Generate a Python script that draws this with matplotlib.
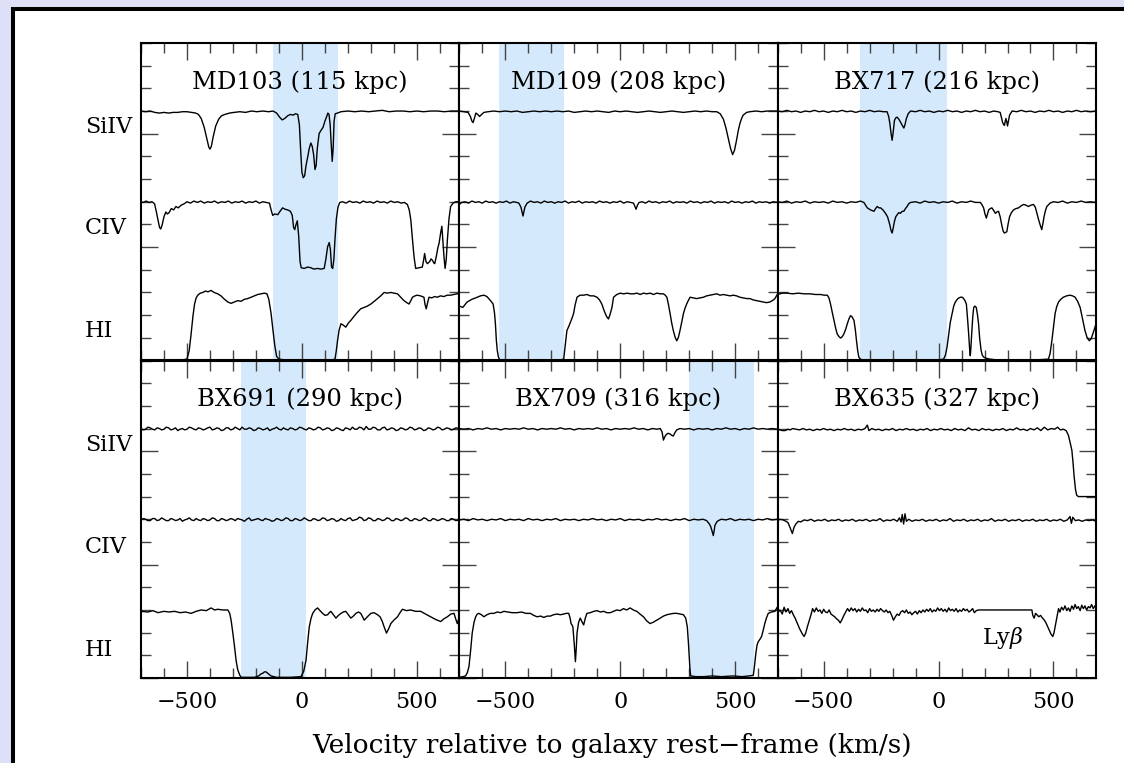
import matplotlib.pyplot as plt
import numpy as np
from matplotlib.patches import Rectangle
from matplotlib.ticker import MultipleLocator

plt.rcParams['font.family'] = ['DejaVu Serif']
plt.rcParams['mathtext.fontset'] = 'dejavuserif'

# spectra: (velocity km/s, normalised flux)
md103_siiv = [(-700, 1.0), (-680, 0.99), (-660, 1.0), (-640, 0.98), (-620, 0.97), (-600, 0.98), (-580, 0.97), (-560, 0.98), (-540, 0.98), (-520, 0.99), (-500, 0.99), (-480, 0.98), (-462, 0.97), (-450, 0.95), (-438, 0.89), (-425, 0.76), (-414, 0.60), (-405, 0.47), (-400, 0.44), (-394, 0.48), (-386, 0.62), (-375, 0.78), (-362, 0.88), (-350, 0.93), (-335, 0.95), (-315, 0.97), (-295, 0.98), (-270, 0.99), (-245, 0.98), (-220, 1.0), (-195, 0.99), (-170, 1.0), (-145, 0.99), (-125, 1.0), (-110, 0.97), (-97, 0.91), (-86, 0.87), (-75, 0.89), (-62, 0.93), (-50, 0.95), (-38, 0.94), (-28, 0.96), (-18, 0.95), (-11, 0.80), (-5, 0.40), (0, 0.10), (6, 0.02), (12, 0.05), (18, 0.20), (25, 0.32), (32, 0.45), (39, 0.53), (45, 0.48), (51, 0.36), (57, 0.14), (62, 0.20), (67, 0.45), (75, 0.67), (84, 0.72), (92, 0.76), (100, 0.85), (108, 0.92), (113, 0.97), (118, 0.95), (123, 0.80), (127, 0.55), (132, 0.26), (136, 0.45), (140, 0.85), (145, 0.96), (155, 0.97), (170, 0.99), (200, 1.0), (230, 0.99), (260, 1.0), (290, 0.99), (320, 1.0), (350, 1.01), (380, 0.99), (410, 1.0), (440, 1.0), (470, 0.99), (500, 1.0), (530, 0.99), (560, 1.0), (590, 1.0), (620, 0.99), (650, 1.0), (685, 1.0)]
md103_civ = [(-700, 1.0), (-690, 0.99), (-678, 1.01), (-665, 0.99), (-652, 1.0), (-641, 0.97), (-633, 0.85), (-626, 0.73), (-619, 0.62), (-614, 0.60), (-608, 0.66), (-600, 0.78), (-592, 0.85), (-585, 0.82), (-578, 0.84), (-568, 0.90), (-558, 0.88), (-548, 0.93), (-538, 0.91), (-525, 0.95), (-512, 0.97), (-500, 1.0), (-485, 0.98), (-470, 1.01), (-455, 0.99), (-440, 1.01), (-425, 0.98), (-410, 1.0), (-395, 0.99), (-380, 1.01), (-365, 0.98), (-350, 1.0), (-335, 0.99), (-320, 1.01), (-305, 0.98), (-290, 1.0), (-275, 0.99), (-260, 1.01), (-245, 0.98), (-230, 1.0), (-215, 0.99), (-200, 1.01), (-185, 0.98), (-170, 1.0), (-155, 0.99), (-141, 0.98), (-134, 0.88), (-127, 0.80), (-118, 0.82), (-105, 0.81), (-95, 0.86), (-84, 0.91), (-73, 0.89), (-62, 0.88), (-50, 0.86), (-42, 0.80), (-36, 0.62), (-31, 0.59), (-26, 0.66), (-20, 0.72), (-14, 0.50), (-8, 0.12), (-3, 0.03), (10, 0.02), (25, 0.04), (39, 0.03), (52, 0.01), (68, 0.02), (82, 0.01), (97, 0.02), (104, 0.15), (112, 0.34), (119, 0.40), (124, 0.30), (129, 0.04), (134, 0.02), (139, 0.15), (144, 0.45), (150, 0.75), (157, 0.92), (165, 0.99), (177, 1.0), (192, 0.98), (207, 1.01), (222, 0.99), (237, 1.0), (252, 0.98), (267, 1.01), (282, 0.99), (297, 1.0), (312, 0.98), (327, 1.01), (342, 0.99), (357, 1.0), (372, 0.98), (387, 1.01), (402, 0.99), (417, 1.0), (432, 0.98), (446, 0.99), (459, 0.96), (467, 0.88), (474, 0.73), (481, 0.45), (488, 0.19), (495, 0.02), (510, 0.03), (524, 0.04), (530, 0.15), (534, 0.24), (540, 0.12), (546, 0.09), (556, 0.12), (562, 0.16), (568, 0.14), (574, 0.10), (578, 0.09), (585, 0.20), (592, 0.33), (597, 0.39), (604, 0.55), (609, 0.64), (613, 0.45), (618, 0.20), (623, 0.02), (628, 0.15), (633, 0.44), (640, 0.75), (647, 0.93), (658, 0.98), (669, 1.0), (685, 1.0)]
md103_hi = [(-700, 0.01), (-670, 0.0), (-640, 0.01), (-610, 0.0), (-580, 0.01), (-550, 0.0), (-520, 0.01), (-500, 0.02), (-490, 0.15), (-482, 0.39), (-474, 0.65), (-467, 0.83), (-460, 0.92), (-453, 0.96), (-442, 0.99), (-431, 1.0), (-420, 1.02), (-408, 1.01), (-395, 1.03), (-382, 1.0), (-366, 0.98), (-352, 0.95), (-337, 0.90), (-322, 0.86), (-308, 0.84), (-294, 0.86), (-279, 0.88), (-265, 0.87), (-250, 0.90), (-236, 0.91), (-221, 0.93), (-207, 0.95), (-192, 0.97), (-178, 0.98), (-163, 0.99), (-152, 0.98), (-144, 0.90), (-134, 0.69), (-126, 0.45), (-118, 0.22), (-110, 0.06), (-100, 0.02), (-76, 0.01), (-40, 0.0), (0, 0.01), (39, 0.0), (80, 0.01), (120, 0.0), (144, 0.02), (150, 0.15), (155, 0.29), (162, 0.45), (170, 0.54), (180, 0.52), (191, 0.49), (202, 0.55), (213, 0.59), (227, 0.65), (242, 0.71), (256, 0.76), (271, 0.78), (285, 0.80), (300, 0.83), (315, 0.87), (329, 0.91), (343, 0.95), (358, 1.0), (372, 0.99), (387, 1.0), (401, 0.99), (416, 0.98), (430, 0.93), (441, 0.89), (452, 0.86), (466, 0.83), (474, 0.88), (481, 0.93), (492, 0.95), (502, 0.96), (516, 0.95), (531, 0.93), (536, 0.82), (541, 0.76), (547, 0.85), (553, 0.93), (565, 0.92), (577, 0.94), (589, 0.93), (603, 0.95), (618, 0.94), (632, 0.96), (647, 0.96), (661, 0.97), (675, 0.98), (685, 0.98)]

md109_siiv = [(-700, 1.0), (-680, 0.99), (-662, 0.98), (-652, 0.92), (-645, 0.85), (-640, 0.83), (-634, 0.90), (-628, 0.97), (-620, 0.95), (-612, 0.92), (-603, 0.95), (-593, 0.98), (-575, 0.99), (-550, 1.0), (-525, 0.99), (-500, 1.0), (-475, 0.99), (-450, 1.0), (-425, 0.98), (-400, 0.99), (-375, 1.0), (-350, 0.99), (-325, 1.0), (-300, 0.99), (-275, 1.0), (-250, 0.99), (-225, 1.0), (-200, 0.98), (-175, 0.99), (-150, 1.0), (-125, 0.99), (-100, 1.0), (-75, 0.99), (-50, 0.98), (-25, 1.0), (0, 0.99), (25, 1.0), (50, 0.99), (75, 0.98), (100, 0.99), (125, 1.0), (150, 0.99), (175, 0.98), (200, 0.99), (225, 1.0), (250, 0.99), (275, 0.98), (300, 0.99), (325, 1.0), (350, 0.99), (375, 1.0), (400, 0.99), (420, 0.99), (435, 0.96), (449, 0.88), (460, 0.75), (470, 0.60), (480, 0.45), (489, 0.36), (497, 0.42), (506, 0.57), (514, 0.72), (521, 0.82), (528, 0.89), (535, 0.94), (550, 0.98), (564, 0.99), (590, 1.0), (615, 0.99), (640, 1.0), (665, 1.0), (685, 1.0)]
md109_civ = [(-700, 0.96), (-690, 0.99), (-675, 1.0), (-660, 0.98), (-645, 1.01), (-630, 0.99), (-615, 1.0), (-600, 0.98), (-585, 1.01), (-570, 0.99), (-555, 1.0), (-540, 0.98), (-525, 1.0), (-510, 0.99), (-495, 1.01), (-480, 0.98), (-465, 1.0), (-450, 0.99), (-441, 0.98), (-432, 0.92), (-423, 0.79), (-415, 0.92), (-405, 0.98), (-390, 1.01), (-375, 0.99), (-360, 1.0), (-345, 0.98), (-330, 1.01), (-315, 0.99), (-300, 1.0), (-285, 0.98), (-270, 1.0), (-255, 0.99), (-240, 1.01), (-225, 0.98), (-210, 1.0), (-195, 0.99), (-180, 1.01), (-165, 0.98), (-150, 1.0), (-135, 0.99), (-120, 1.0), (-105, 0.98), (-90, 1.01), (-75, 0.99), (-60, 1.0), (-45, 0.98), (-30, 1.0), (-15, 0.99), (0, 1.01), (15, 0.98), (30, 1.0), (45, 0.99), (58, 0.98), (64, 0.93), (69, 0.89), (75, 0.95), (82, 0.99), (95, 1.0), (110, 0.98), (125, 1.01), (140, 0.99), (155, 1.0), (170, 0.98), (185, 1.0), (200, 0.99), (215, 1.01), (230, 0.98), (245, 1.0), (260, 0.99), (275, 1.0), (290, 0.98), (305, 1.01), (320, 0.99), (335, 1.0), (350, 0.98), (365, 1.0), (380, 0.99), (395, 1.01), (410, 0.98), (425, 1.0), (440, 0.99), (455, 1.0), (470, 0.98), (485, 1.01), (500, 0.99), (515, 1.0), (530, 0.98), (545, 1.0), (560, 0.99), (575, 1.01), (590, 0.98), (605, 1.0), (620, 0.99), (635, 1.0), (650, 0.98), (665, 1.0), (685, 0.99)]
md109_hi = [(-700, 0.80), (-685, 0.78), (-666, 0.86), (-645, 0.90), (-622, 0.93), (-608, 0.95), (-593, 0.96), (-580, 0.94), (-572, 0.91), (-562, 0.87), (-553, 0.83), (-547, 0.70), (-543, 0.54), (-539, 0.30), (-535, 0.15), (-530, 0.05), (-524, 0.01), (-490, 0.0), (-449, 0.01), (-400, 0.0), (-350, 0.01), (-304, 0.0), (-260, 0.01), (-246, 0.02), (-240, 0.20), (-232, 0.44), (-224, 0.50), (-217, 0.56), (-210, 0.62), (-203, 0.69), (-196, 0.82), (-188, 0.93), (-175, 0.96), (-159, 0.96), (-145, 0.97), (-130, 0.95), (-115, 0.95), (-101, 0.93), (-90, 0.89), (-80, 0.83), (-72, 0.75), (-65, 0.69), (-58, 0.64), (-51, 0.61), (-44, 0.68), (-36, 0.78), (-29, 0.93), (-15, 0.97), (0, 0.99), (15, 0.98), (30, 0.99), (44, 0.98), (58, 0.98), (73, 0.99), (87, 0.97), (101, 0.99), (116, 0.98), (130, 0.99), (145, 0.97), (159, 0.99), (174, 0.98), (188, 0.98), (196, 0.96), (203, 0.93), (210, 0.82), (217, 0.69), (224, 0.55), (231, 0.44), (239, 0.34), (246, 0.29), (253, 0.34), (260, 0.44), (268, 0.57), (275, 0.69), (282, 0.77), (289, 0.83), (296, 0.88), (304, 0.93), (318, 0.92), (333, 0.91), (347, 0.92), (362, 0.93), (376, 0.95), (391, 0.96), (405, 0.97), (420, 0.98), (434, 0.96), (449, 0.97), (463, 0.96), (478, 0.95), (492, 0.96), (506, 0.95), (521, 0.93), (535, 0.92), (550, 0.91), (564, 0.91), (579, 0.89), (593, 0.88), (608, 0.87), (622, 0.86), (637, 0.85), (651, 0.86), (662, 0.88), (673, 0.91), (685, 0.98)]

bx717_siiv = [(-700, 1.0), (-680, 0.99), (-660, 1.01), (-640, 0.99), (-620, 1.0), (-600, 0.98), (-580, 1.0), (-560, 0.99), (-540, 1.01), (-520, 0.99), (-500, 1.0), (-480, 0.98), (-460, 1.0), (-440, 0.99), (-420, 1.01), (-400, 0.99), (-380, 1.0), (-360, 0.98), (-340, 1.0), (-320, 0.99), (-300, 1.01), (-280, 0.99), (-260, 1.0), (-240, 0.99), (-224, 0.99), (-217, 0.92), (-212, 0.82), (-207, 0.68), (-202, 0.57), (-197, 0.70), (-192, 0.86), (-186, 0.90), (-180, 0.91), (-173, 0.88), (-166, 0.84), (-158, 0.79), (-151, 0.75), (-146, 0.80), (-140, 0.89), (-132, 0.96), (-122, 1.0), (-100, 0.99), (-80, 1.01), (-60, 0.99), (-40, 1.0), (-20, 0.98), (0, 1.0), (20, 0.99), (40, 1.01), (60, 0.99), (80, 1.0), (100, 0.98), (120, 1.0), (140, 0.99), (160, 1.01), (180, 0.99), (200, 1.0), (220, 0.98), (240, 1.0), (258, 0.99), (268, 0.98), (274, 0.90), (278, 0.84), (283, 0.80), (287, 0.79), (290, 0.85), (293, 0.89), (297, 0.84), (300, 0.78), (304, 0.85), (309, 0.94), (320, 1.0), (340, 0.99), (360, 1.01), (380, 0.99), (400, 1.0), (420, 0.98), (440, 1.0), (460, 0.99), (480, 1.01), (500, 0.99), (520, 1.0), (540, 0.98), (560, 1.0), (580, 0.99), (600, 1.01), (620, 0.99), (640, 1.0), (660, 0.99), (685, 1.0)]
bx717_civ = [(-700, 1.0), (-680, 0.99), (-660, 1.01), (-640, 0.98), (-620, 1.0), (-600, 0.99), (-580, 1.01), (-560, 0.98), (-540, 1.0), (-520, 0.99), (-500, 1.0), (-480, 0.98), (-460, 1.01), (-440, 0.99), (-420, 1.0), (-400, 0.98), (-380, 1.0), (-360, 0.99), (-340, 1.01), (-325, 0.99), (-310, 0.91), (-296, 0.88), (-281, 0.86), (-274, 0.90), (-267, 0.93), (-259, 0.91), (-252, 0.91), (-242, 0.88), (-231, 0.83), (-222, 0.78), (-212, 0.66), (-207, 0.58), (-202, 0.54), (-197, 0.62), (-192, 0.71), (-186, 0.78), (-180, 0.81), (-173, 0.84), (-166, 0.83), (-158, 0.86), (-151, 0.86), (-144, 0.90), (-137, 0.93), (-130, 0.97), (-122, 0.99), (-100, 1.0), (-80, 0.98), (-60, 1.01), (-40, 0.99), (-20, 1.0), (0, 0.98), (20, 1.0), (40, 0.99), (60, 1.01), (80, 0.98), (100, 1.0), (120, 0.99), (140, 1.01), (160, 0.99), (182, 0.99), (190, 0.95), (196, 0.91), (202, 0.82), (208, 0.76), (213, 0.82), (218, 0.88), (225, 0.90), (232, 0.91), (240, 0.87), (247, 0.83), (254, 0.85), (261, 0.86), (268, 0.78), (276, 0.64), (281, 0.57), (286, 0.54), (292, 0.55), (297, 0.56), (303, 0.68), (309, 0.78), (317, 0.84), (326, 0.88), (337, 0.90), (348, 0.91), (359, 0.94), (370, 0.96), (380, 0.95), (391, 0.93), (402, 0.95), (413, 0.96), (421, 0.92), (428, 0.83), (435, 0.74), (442, 0.66), (449, 0.59), (454, 0.68), (459, 0.78), (465, 0.87), (471, 0.93), (485, 0.98), (500, 1.0), (520, 0.99), (540, 1.01), (560, 0.98), (580, 1.0), (600, 0.99), (620, 1.01), (640, 0.99), (660, 1.0), (685, 0.99)]
bx717_hi = [(-700, 0.97), (-680, 0.99), (-658, 0.99), (-635, 0.98), (-610, 0.99), (-585, 0.98), (-560, 0.98), (-535, 0.97), (-513, 0.97), (-498, 0.96), (-484, 0.96), (-477, 0.92), (-470, 0.83), (-462, 0.70), (-455, 0.59), (-448, 0.48), (-441, 0.39), (-433, 0.35), (-426, 0.33), (-419, 0.35), (-412, 0.39), (-404, 0.46), (-397, 0.54), (-390, 0.61), (-383, 0.66), (-376, 0.64), (-368, 0.59), (-362, 0.45), (-357, 0.29), (-352, 0.15), (-347, 0.05), (-340, 0.02), (-332, 0.01), (-280, 0.0), (-224, 0.01), (-150, 0.0), (-79, 0.01), (-20, 0.0), (22, 0.02), (30, 0.08), (37, 0.20), (44, 0.38), (51, 0.56), (59, 0.69), (66, 0.80), (73, 0.86), (84, 0.91), (95, 0.93), (103, 0.93), (109, 0.91), (115, 0.88), (121, 0.83), (126, 0.62), (131, 0.39), (135, 0.18), (138, 0.07), (141, 0.20), (145, 0.44), (149, 0.65), (153, 0.78), (158, 0.80), (164, 0.78), (169, 0.68), (174, 0.54), (179, 0.32), (185, 0.15), (190, 0.08), (196, 0.05), (210, 0.03), (225, 0.02), (250, 0.01), (283, 0.01), (350, 0.0), (428, 0.01), (478, 0.02), (485, 0.10), (493, 0.29), (500, 0.49), (507, 0.69), (514, 0.79), (522, 0.86), (532, 0.90), (543, 0.93), (557, 0.95), (572, 0.96), (583, 0.95), (594, 0.93), (605, 0.87), (616, 0.78), (626, 0.62), (637, 0.44), (646, 0.34), (656, 0.29), (664, 0.32), (671, 0.39), (678, 0.46), (685, 0.54)]

bx691_siiv = [(-700, 1.0), (-690, 0.98), (-680, 0.99), (-670, 1.02), (-660, 1.01), (-650, 0.99), (-640, 0.98), (-630, 1.01), (-620, 1.0), (-610, 0.98), (-600, 0.99), (-590, 1.02), (-580, 1.01), (-570, 0.98), (-560, 0.99), (-550, 1.01), (-540, 0.97), (-530, 0.99), (-520, 1.0), (-510, 0.98), (-500, 0.99), (-490, 1.02), (-480, 1.01), (-470, 0.99), (-460, 0.98), (-450, 1.01), (-440, 1.0), (-430, 0.98), (-420, 0.99), (-410, 1.01), (-400, 1.02), (-390, 0.98), (-380, 0.99), (-370, 1.01), (-360, 1.0), (-350, 0.97), (-340, 0.98), (-330, 1.01), (-320, 1.01), (-310, 0.98), (-300, 0.99), (-290, 1.02), (-280, 1.0), (-270, 0.98), (-260, 1.02), (-250, 0.99), (-240, 0.99), (-230, 1.01), (-220, 1.0), (-210, 0.97), (-200, 0.98), (-190, 1.01), (-180, 1.0), (-170, 0.98), (-160, 0.99), (-150, 1.01), (-140, 0.97), (-130, 0.99), (-120, 1.0), (-110, 1.02), (-100, 0.99), (-90, 0.98), (-80, 1.01), (-70, 0.99), (-60, 0.98), (-50, 1.01), (-40, 1.0), (-30, 0.98), (-20, 0.99), (-10, 1.02), (0, 1.01), (10, 0.99), (20, 0.98), (30, 1.01), (40, 1.0), (50, 0.98), (60, 0.99), (70, 1.02), (80, 1.01), (90, 0.98), (100, 0.99), (110, 1.01), (120, 1.0), (130, 0.97), (140, 0.98), (150, 1.01), (160, 1.0), (170, 0.98), (180, 0.97), (190, 1.01), (200, 1.0), (210, 0.98), (220, 1.02), (230, 0.99), (240, 0.99), (250, 1.02), (260, 1.01), (270, 0.98), (280, 1.03), (290, 0.99), (300, 0.99), (310, 1.02), (320, 1.01), (330, 0.98), (340, 0.98), (350, 1.01), (360, 1.02), (370, 0.98), (380, 0.99), (390, 1.01), (400, 1.0), (410, 0.97), (420, 0.98), (430, 1.01), (440, 1.0), (450, 0.98), (460, 0.99), (470, 1.02), (480, 1.01), (490, 0.98), (500, 0.99), (510, 1.01), (520, 1.0), (530, 0.97), (540, 0.98), (550, 1.01), (560, 1.0), (570, 0.98), (580, 0.99), (590, 1.02), (600, 1.01), (610, 0.98), (620, 0.99), (630, 1.01), (640, 1.0), (650, 0.98), (660, 0.99), (670, 1.01), (685, 1.0)]
bx691_civ = [(-700, 0.99), (-690, 1.01), (-680, 1.0), (-670, 0.98), (-660, 0.98), (-650, 1.01), (-640, 1.01), (-630, 0.98), (-620, 0.99), (-610, 1.02), (-600, 1.0), (-590, 0.98), (-580, 0.98), (-570, 1.01), (-560, 1.0), (-550, 0.98), (-540, 0.99), (-530, 1.01), (-520, 0.97), (-510, 0.99), (-500, 1.0), (-490, 1.02), (-480, 0.99), (-470, 0.98), (-460, 1.01), (-450, 0.99), (-440, 0.98), (-430, 1.01), (-420, 1.0), (-410, 0.98), (-400, 0.99), (-390, 1.02), (-380, 1.01), (-370, 0.98), (-360, 0.98), (-350, 1.01), (-340, 1.0), (-330, 0.98), (-320, 0.99), (-310, 1.01), (-300, 1.0), (-290, 0.98), (-280, 1.01), (-270, 1.0), (-260, 0.99), (-250, 0.97), (-240, 1.0), (-230, 1.02), (-220, 0.98), (-210, 0.99), (-200, 1.0), (-190, 1.01), (-180, 0.99), (-170, 0.98), (-160, 1.01), (-150, 1.0), (-140, 0.99), (-130, 0.97), (-120, 0.98), (-110, 1.01), (-100, 1.0), (-90, 0.98), (-80, 0.99), (-70, 1.02), (-60, 1.01), (-50, 0.98), (-40, 0.98), (-30, 1.01), (-20, 1.0), (-10, 0.98), (0, 0.99), (10, 1.02), (20, 1.0), (30, 0.98), (40, 0.98), (50, 1.01), (60, 1.0), (70, 0.98), (80, 0.99), (90, 1.02), (100, 1.01), (110, 0.98), (120, 0.99), (130, 1.01), (140, 1.0), (150, 0.97), (160, 0.98), (170, 1.01), (180, 0.99), (190, 0.98), (200, 1.01), (210, 1.02), (220, 0.98), (230, 0.99), (240, 1.0), (250, 1.03), (260, 1.02), (270, 0.98), (280, 0.99), (290, 1.02), (300, 1.01), (310, 0.98), (320, 0.98), (330, 1.01), (340, 1.0), (350, 0.98), (360, 0.99), (370, 1.02), (380, 1.01), (390, 0.98), (400, 0.98), (410, 1.01), (420, 1.0), (430, 0.98), (440, 0.99), (450, 1.02), (460, 1.01), (470, 0.98), (480, 0.98), (490, 1.01), (500, 1.0), (510, 0.98), (520, 0.99), (530, 1.02), (540, 1.01), (550, 0.98), (560, 0.98), (570, 1.01), (580, 1.0), (590, 0.98), (600, 0.99), (610, 1.01), (620, 1.0), (630, 0.98), (640, 0.98), (650, 1.01), (660, 1.0), (670, 0.98), (685, 0.99)]
bx691_hi = [(-700, 0.98), (-670, 0.97), (-648, 0.99), (-626, 0.96), (-600, 0.98), (-578, 0.97), (-554, 0.98), (-530, 0.96), (-506, 0.97), (-482, 0.95), (-460, 0.98), (-438, 1.0), (-416, 0.99), (-395, 1.03), (-380, 1.0), (-366, 1.01), (-344, 1.0), (-322, 1.0), (-314, 0.95), (-308, 0.85), (-300, 0.65), (-293, 0.46), (-286, 0.25), (-279, 0.12), (-270, 0.04), (-264, 0.01), (-230, 0.01), (-207, 0.01), (-188, 0.03), (-178, 0.06), (-170, 0.07), (-163, 0.09), (-156, 0.09), (-145, 0.06), (-134, 0.03), (-110, 0.01), (-91, 0.01), (-50, 0.01), (-4, 0.02), (8, 0.10), (18, 0.26), (25, 0.52), (32, 0.75), (40, 0.88), (47, 0.95), (57, 1.0), (68, 1.03), (79, 0.99), (90, 0.95), (101, 0.92), (112, 0.93), (119, 0.96), (126, 0.98), (137, 0.93), (148, 0.88), (159, 0.92), (170, 0.95), (180, 0.97), (191, 0.98), (202, 0.93), (213, 0.88), (224, 0.91), (235, 0.95), (246, 0.97), (256, 0.95), (264, 0.90), (271, 0.85), (285, 0.90), (300, 0.95), (314, 0.96), (329, 0.93), (340, 0.90), (350, 0.83), (358, 0.75), (368, 0.66), (377, 0.72), (387, 0.80), (400, 0.85), (416, 0.90), (427, 0.96), (437, 1.01), (455, 0.99), (473, 1.0), (495, 0.98), (517, 0.98), (538, 0.94), (560, 0.90), (582, 0.86), (604, 0.83), (618, 0.87), (633, 0.90), (648, 0.94), (662, 0.95), (670, 0.86), (676, 0.80), (685, 0.90)]

bx709_siiv = [(-700, 1.0), (-680, 0.99), (-660, 1.0), (-640, 0.98), (-620, 1.0), (-600, 0.99), (-580, 1.01), (-560, 0.99), (-540, 1.0), (-520, 0.98), (-500, 1.0), (-480, 0.99), (-460, 1.0), (-440, 0.99), (-420, 1.01), (-400, 0.99), (-380, 1.0), (-360, 0.98), (-340, 1.0), (-320, 0.99), (-300, 1.0), (-280, 0.99), (-260, 1.01), (-240, 0.99), (-220, 1.0), (-200, 0.98), (-180, 1.0), (-160, 0.99), (-140, 1.0), (-120, 0.99), (-100, 1.01), (-80, 0.99), (-60, 1.0), (-40, 0.98), (-20, 1.0), (0, 0.99), (20, 1.0), (40, 0.99), (60, 1.01), (80, 0.99), (100, 1.0), (120, 0.98), (140, 1.0), (160, 0.99), (174, 1.0), (182, 0.95), (188, 0.83), (194, 0.88), (200, 0.91), (208, 0.93), (217, 0.92), (224, 0.90), (231, 0.89), (238, 0.94), (246, 0.98), (260, 1.0), (280, 0.99), (300, 1.0), (320, 0.98), (340, 1.0), (360, 0.99), (380, 1.0), (400, 0.98), (420, 1.0), (440, 0.99), (460, 1.01), (480, 0.99), (500, 1.0), (520, 0.98), (540, 1.0), (560, 0.99), (580, 1.01), (600, 0.99), (620, 1.0), (640, 0.99), (660, 1.0), (685, 0.99)]
bx709_civ = [(-700, 0.99), (-680, 1.0), (-660, 0.98), (-640, 1.01), (-620, 0.99), (-600, 1.0), (-580, 0.98), (-560, 1.0), (-540, 0.99), (-520, 1.01), (-500, 0.98), (-480, 1.0), (-460, 0.99), (-440, 1.0), (-420, 0.98), (-400, 1.01), (-380, 0.99), (-360, 1.0), (-340, 0.98), (-320, 1.0), (-300, 0.99), (-280, 1.01), (-260, 0.98), (-240, 1.0), (-220, 0.99), (-200, 1.0), (-180, 0.98), (-160, 1.0), (-140, 0.99), (-120, 1.01), (-100, 0.99), (-80, 1.0), (-60, 0.98), (-40, 1.0), (-20, 0.99), (0, 1.01), (20, 0.98), (40, 1.0), (60, 0.99), (80, 1.0), (100, 0.98), (120, 1.0), (140, 0.99), (160, 1.01), (180, 0.99), (200, 1.0), (220, 0.98), (240, 1.0), (260, 0.99), (280, 1.01), (300, 0.98), (320, 1.0), (340, 0.99), (360, 1.0), (376, 0.98), (388, 0.93), (394, 0.89), (400, 0.82), (405, 0.76), (409, 0.84), (412, 0.91), (420, 0.96), (427, 0.98), (440, 1.0), (460, 0.99), (480, 1.01), (500, 0.98), (520, 1.0), (540, 0.99), (560, 1.0), (580, 0.98), (600, 1.0), (620, 0.99), (640, 1.01), (660, 0.99), (685, 1.0)]
bx709_hi = [(-700, 0.01), (-685, 0.02), (-673, 0.03), (-665, 0.08), (-658, 0.17), (-651, 0.40), (-644, 0.66), (-636, 0.82), (-629, 0.90), (-622, 0.94), (-615, 0.95), (-604, 0.93), (-593, 0.90), (-580, 0.93), (-565, 0.95), (-550, 0.95), (-535, 0.97), (-520, 0.96), (-506, 0.98), (-490, 0.97), (-470, 0.96), (-449, 0.96), (-430, 0.97), (-410, 0.95), (-391, 0.95), (-376, 0.92), (-362, 0.90), (-345, 0.91), (-333, 0.89), (-318, 0.91), (-304, 0.91), (-290, 0.93), (-275, 0.94), (-260, 0.93), (-246, 0.94), (-235, 0.95), (-224, 0.95), (-218, 0.88), (-214, 0.80), (-210, 0.78), (-206, 0.75), (-200, 0.50), (-195, 0.24), (-191, 0.45), (-188, 0.66), (-181, 0.82), (-174, 0.88), (-167, 0.83), (-159, 0.78), (-152, 0.88), (-145, 0.95), (-130, 0.96), (-115, 0.98), (-101, 0.99), (-86, 0.97), (-72, 0.98), (-58, 0.96), (-43, 0.96), (-29, 0.98), (-15, 1.0), (0, 0.99), (14, 1.02), (28, 1.0), (43, 1.03), (57, 1.0), (72, 0.98), (86, 0.94), (101, 0.90), (115, 0.84), (130, 0.80), (144, 0.82), (159, 0.85), (174, 0.88), (188, 0.91), (203, 0.93), (217, 0.94), (232, 0.95), (246, 0.95), (261, 0.94), (275, 0.93), (285, 0.88), (292, 0.75), (297, 0.50), (301, 0.27), (304, 0.10), (307, 0.03), (330, 0.02), (362, 0.02), (400, 0.03), (440, 0.02), (492, 0.03), (530, 0.02), (560, 0.03), (579, 0.04), (585, 0.20), (590, 0.36), (595, 0.48), (600, 0.53), (608, 0.57), (615, 0.61), (622, 0.70), (629, 0.80), (636, 0.88), (644, 0.95), (658, 0.97), (673, 0.98), (685, 1.05)]

bx635_siiv = [(-700, 0.99), (-690, 0.98), (-680, 0.97), (-668, 0.97), (-655, 0.99), (-645, 0.98), (-635, 1.0), (-620, 0.99), (-605, 0.98), (-590, 1.0), (-575, 0.98), (-560, 0.99), (-545, 0.97), (-530, 0.99), (-515, 0.98), (-500, 1.0), (-485, 0.98), (-470, 0.99), (-455, 0.97), (-440, 0.99), (-425, 0.98), (-410, 1.0), (-395, 0.98), (-380, 0.99), (-365, 0.97), (-350, 0.99), (-335, 0.98), (-320, 1.0), (-310, 1.05), (-303, 0.97), (-290, 1.0), (-275, 0.98), (-260, 0.99), (-245, 0.97), (-230, 0.99), (-215, 0.98), (-200, 1.0), (-185, 0.97), (-170, 0.99), (-155, 0.98), (-140, 1.0), (-125, 0.98), (-110, 0.99), (-95, 0.97), (-80, 0.99), (-65, 0.98), (-50, 1.0), (-35, 0.97), (-20, 0.99), (-5, 0.98), (10, 1.0), (25, 0.98), (40, 0.99), (55, 0.97), (70, 1.0), (85, 0.98), (100, 0.99), (115, 0.97), (130, 1.01), (145, 0.98), (160, 0.99), (175, 0.97), (190, 1.0), (205, 0.98), (220, 0.99), (235, 0.97), (250, 0.99), (265, 0.98), (280, 1.0), (295, 0.97), (310, 0.99), (325, 0.98), (340, 1.01), (355, 0.98), (370, 0.99), (385, 0.97), (400, 1.0), (415, 0.98), (430, 1.01), (445, 0.97), (460, 1.02), (475, 0.98), (490, 1.0), (505, 0.99), (518, 1.02), (530, 0.98), (543, 0.99), (555, 0.97), (565, 0.90), (572, 0.80), (580, 0.68), (585, 0.50), (590, 0.29), (596, 0.10), (601, 0.02), (608, 0.0), (616, 0.0), (650, 0.0), (685, 0.0)]
bx635_civ = [(-700, 0.98), (-690, 1.0), (-676, 0.99), (-664, 0.97), (-655, 0.95), (-650, 0.91), (-643, 0.85), (-636, 0.79), (-629, 0.88), (-621, 0.93), (-610, 0.97), (-600, 0.96), (-585, 0.99), (-570, 0.98), (-555, 1.0), (-540, 0.97), (-525, 0.99), (-510, 0.98), (-495, 1.0), (-480, 0.97), (-465, 0.99), (-450, 0.98), (-435, 1.0), (-420, 0.97), (-405, 0.99), (-390, 0.98), (-375, 1.0), (-360, 0.97), (-345, 0.99), (-330, 0.98), (-315, 1.0), (-300, 0.97), (-285, 0.99), (-270, 0.98), (-255, 1.01), (-240, 0.97), (-225, 0.99), (-210, 0.98), (-195, 1.0), (-180, 0.97), (-170, 1.02), (-163, 0.96), (-158, 1.07), (-152, 0.93), (-146, 1.08), (-140, 0.97), (-130, 1.0), (-115, 0.97), (-100, 0.99), (-85, 0.98), (-70, 1.0), (-55, 0.97), (-40, 0.99), (-25, 0.98), (-10, 1.0), (5, 0.97), (20, 0.99), (35, 0.98), (50, 1.01), (65, 0.97), (80, 0.99), (95, 0.98), (110, 1.0), (125, 0.97), (140, 0.99), (155, 0.98), (170, 1.0), (185, 0.97), (200, 0.99), (215, 0.98), (230, 1.01), (245, 0.97), (260, 0.99), (275, 0.98), (290, 1.0), (305, 0.97), (320, 0.99), (335, 0.98), (350, 1.0), (365, 0.97), (380, 0.99), (395, 0.98), (410, 1.0), (425, 0.97), (440, 0.99), (455, 0.98), (470, 1.0), (485, 0.97), (500, 0.99), (515, 0.98), (530, 1.0), (545, 0.97), (560, 0.99), (572, 1.04), (578, 0.94), (584, 1.03), (595, 0.98), (610, 0.99), (625, 0.97), (640, 0.99), (655, 0.98), (670, 0.99), (685, 0.97)]
bx635_hi = [(-700, 0.96), (-690, 1.0), (-680, 0.94), (-672, 1.04), (-664, 0.97), (-655, 1.02), (-648, 0.95), (-640, 0.99), (-632, 0.93), (-624, 0.88), (-614, 0.80), (-604, 0.72), (-593, 0.65), (-585, 0.61), (-578, 0.66), (-571, 0.75), (-563, 0.84), (-555, 0.93), (-548, 1.02), (-540, 0.97), (-532, 1.03), (-524, 0.98), (-516, 1.0), (-508, 0.95), (-500, 1.01), (-492, 0.97), (-484, 0.96), (-476, 1.0), (-468, 0.94), (-460, 0.92), (-452, 0.90), (-444, 0.87), (-436, 0.85), (-428, 0.81), (-420, 0.86), (-412, 0.92), (-404, 0.97), (-396, 1.02), (-388, 0.98), (-380, 1.03), (-372, 0.99), (-364, 1.02), (-356, 0.97), (-348, 1.01), (-340, 0.98), (-332, 1.03), (-324, 0.99), (-316, 1.0), (-308, 0.96), (-300, 1.02), (-292, 0.98), (-284, 1.0), (-276, 0.97), (-268, 1.01), (-260, 0.98), (-252, 1.02), (-244, 0.99), (-236, 0.97), (-228, 1.0), (-220, 0.96), (-212, 0.98), (-204, 0.92), (-196, 0.85), (-188, 0.90), (-180, 0.94), (-172, 0.92), (-164, 0.97), (-156, 0.99), (-148, 0.96), (-140, 1.0), (-132, 0.95), (-124, 0.97), (-116, 0.93), (-108, 0.96), (-100, 0.98), (-92, 0.94), (-84, 0.99), (-76, 0.96), (-68, 1.0), (-60, 0.97), (-52, 1.01), (-44, 0.98), (-36, 1.02), (-28, 0.97), (-20, 1.0), (-12, 0.98), (-4, 1.03), (4, 0.99), (12, 1.02), (20, 0.98), (28, 1.01), (36, 0.97), (44, 1.03), (52, 0.99), (60, 1.01), (68, 0.98), (76, 1.02), (84, 0.97), (92, 1.0), (100, 0.98), (108, 1.02), (116, 0.99), (124, 1.01), (132, 0.97), (140, 0.99), (148, 1.02), (156, 0.96), (164, 0.99), (174, 1.0), (406, 1.0), (410, 0.92), (416, 0.88), (422, 0.95), (428, 0.93), (436, 0.90), (444, 0.92), (450, 0.89), (458, 0.86), (466, 0.82), (474, 0.76), (482, 0.70), (490, 0.64), (497, 0.61), (502, 0.66), (507, 0.75), (514, 0.88), (522, 1.02), (528, 0.97), (535, 1.04), (543, 1.0), (550, 1.06), (558, 0.99), (565, 1.03), (572, 0.98), (580, 1.06), (587, 1.01), (594, 1.08), (601, 1.02), (608, 1.05), (616, 0.99), (623, 1.07), (630, 1.02), (637, 1.06), (644, 1.0), (652, 1.05), (659, 1.03), (666, 1.08), (673, 1.02), (680, 1.06), (685, 1.07)]

titles = ['MD103 (115 kpc)', 'MD109 (208 kpc)', 'BX717 (216 kpc)',
          'BX691 (290 kpc)', 'BX709 (316 kpc)', 'BX635 (327 kpc)']
shade = [(-125, 158), (-526, -243), (-343, 35), (-264, 19), (300, 583), None]
spectra = [(md103_siiv, md103_civ, md103_hi), (md109_siiv, md109_civ, md109_hi),
           (bx717_siiv, bx717_civ, bx717_hi), (bx691_siiv, bx691_civ, bx691_hi),
           (bx709_siiv, bx709_civ, bx709_hi), (bx635_siiv, bx635_civ, bx635_hi)]
ions = ['SiIV', 'CIV', 'HI']
offsets = [8, 4, 0]

fig = plt.figure(figsize=(11.24, 7.63), dpi=100)
fig.patch.set_facecolor('#dde0f6')
fig.add_artist(Rectangle((12.5 / 1124, -0.1), 1.2, 1.1 - 9 / 763, transform=fig.transFigure,
                         facecolor='white', edgecolor='black', linewidth=2.9, zorder=-10))

gs = fig.add_gridspec(2, 3, left=141 / 1124, right=1096 / 1124, top=1 - 43 / 763,
                      bottom=1 - 678 / 763, wspace=0, hspace=0)

for i in range(6):
    ax = fig.add_subplot(gs[i // 3, i % 3])
    if shade[i] is not None:
        ax.axvspan(shade[i][0], shade[i][1], color='#d4eafc', lw=0, zorder=0)
    for spec, off in zip(spectra[i], offsets):
        arr = np.array(spec)
        ax.plot(arr[:, 0], arr[:, 1] * 3 + off, color='black', lw=1.0, zorder=2)
    ax.set_xlim(-700, 685)
    ax.set_ylim(0, 14)
    ax.xaxis.set_major_locator(MultipleLocator(500))
    ax.xaxis.set_minor_locator(MultipleLocator(100))
    ax.yaxis.set_major_locator(MultipleLocator(5))
    ax.yaxis.set_minor_locator(MultipleLocator(1))
    ax.tick_params(which='both', direction='in', top=True, right=True,
                   color='#444444', width=1.0, labelleft=False,
                   labelbottom=(i >= 3), labelsize=16, pad=9)
    ax.tick_params(which='major', length=12)
    ax.tick_params(which='minor', length=7)
    for s in ax.spines.values():
        s.set_linewidth(1.5)
    ax.text(0.5, 0.877, titles[i], transform=ax.transAxes, ha='center', va='center',
            fontsize=17.5)
    if i == 5:
        ax.text(0.708, 0.126, r'Ly$\beta$', transform=ax.transAxes, ha='center',
                va='center', fontsize=16)

label_y = [[127, 228, 331], [445, 547, 650]]
for row in range(2):
    for ion, yy in zip(ions, label_y[row]):
        fig.text(85 / 1124, 1 - yy / 763, ion, ha='left', va='center', fontsize=16)

fig.text(612 / 1124, 1 - 745 / 763, 'Velocity relative to galaxy rest\u2212frame (km/s)',
         ha='center', va='center', fontsize=19)

fig.savefig('out.png', dpi=100, facecolor=fig.get_facecolor())
